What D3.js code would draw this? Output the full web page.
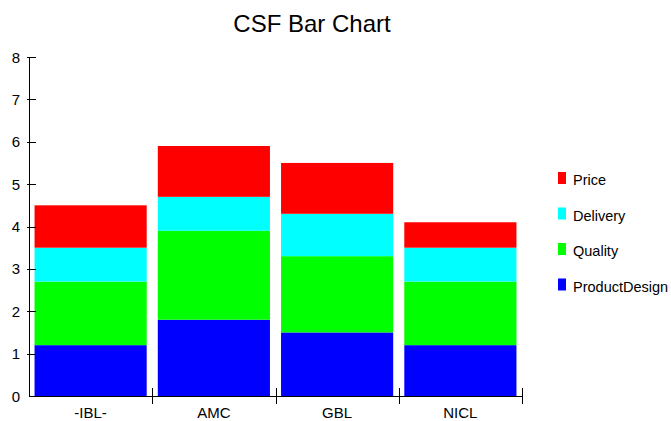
<!DOCTYPE html>
<html><head><meta charset="utf-8">
<script src="https://cdn.jsdelivr.net/npm/d3@7"></script>
<style>body{margin:0;background:#fff}svg{display:block;font-family:Arial,"Liberation Sans",sans-serif}</style>
</head><body><svg id="c" width="671" height="421"></svg>
<script>
const categories = ["-IBL-", "AMC", "GBL", "NICL"];
const seriesNames = ["ProductDesign", "Quality", "Delivery", "Price"];
const productDesign = [1.2, 1.8, 1.5, 1.2];
const quality = [1.5, 2.1, 1.8, 1.5];
const delivery = [0.8, 0.8, 1.0, 0.8];
const price = [1.0, 1.2, 1.2, 0.6];
const colors = ["#0000ff", "#00ff00", "#00ffff", "#ff0000"];
const yTicks = [0,1,2,3,4,5,6,7,8];

(function(){
const rows = categories.map((c,i)=>({cat:c, ProductDesign:productDesign[i], Quality:quality[i], Delivery:delivery[i], Price:price[i]}));
const stack = d3.stack().keys(seriesNames)(rows);

const svg = d3.select("#c");
const pl = 29, pr = 522, pt = 57, pb = 396;
const x = d3.scaleBand().domain(categories).range([pl, pr]).paddingInner(0.09).paddingOuter(0.045);
const xb = d3.scaleBand().domain(categories).range([pl, pr]);
const y = d3.scaleLinear().domain([0, 8]).range([pb, pt]);

svg.append("text").attr("x", 312).attr("y", 32).attr("text-anchor","middle")
  .attr("font-size", 24).attr("fill","#000").text("CSF Bar Chart");

stack.forEach((s, k) => {
  svg.append("g").attr("fill", colors[k]).selectAll("rect").data(s).join("rect")
    .attr("x", d => x(d.data.cat)).attr("width", x.bandwidth())
    .attr("y", d => y(d[1])).attr("height", d => y(d[0]) - y(d[1]));
});

const ga = svg.append("g").attr("stroke","#000").attr("stroke-width",1);
ga.append("line").attr("x1", pl+0.5).attr("x2", pl+0.5).attr("y1", y(8)).attr("y2", pb+0.5);
yTicks.forEach(t => {
  if (t > 0) ga.append("line").attr("x1", pl-2).attr("x2", pl+7).attr("y1", Math.round(y(t))+0.5).attr("y2", Math.round(y(t))+0.5);
});
svg.append("g").selectAll("text").data(yTicks).join("text")
  .attr("x", 20).attr("y", d => y(d) + 5.5).attr("text-anchor","end")
  .attr("font-size", 15).attr("fill","#000").text(d => d);

ga.append("line").attr("x1", pl).attr("x2", pr+0.5).attr("y1", pb+0.5).attr("y2", pb+0.5);
categories.forEach(c => {
  const xe = Math.round(xb(c) + xb.bandwidth()) + 0.5;
  ga.append("line").attr("x1", xe).attr("x2", xe).attr("y1", pb-8).attr("y2", pb+8);
});
svg.append("g").selectAll("text").data(categories).join("text")
  .attr("x", d => xb(d) + xb.bandwidth()/2).attr("y", 418).attr("text-anchor","middle")
  .attr("font-size", 15).attr("fill","#000").text(d => d);

const legendOrder = ["Price", "Delivery", "Quality", "ProductDesign"];
legendOrder.forEach((n, i) => {
  const yy = 172 + i * 35.5;
  svg.append("rect").attr("x", 558).attr("y", yy).attr("width", 8).attr("height", 12).attr("fill", colors[seriesNames.indexOf(n)]);
  svg.append("text").attr("x", 573).attr("y", yy + 13).attr("font-size", 14.5).attr("fill","#000").text(n);
});
})();
</script></body></html>
